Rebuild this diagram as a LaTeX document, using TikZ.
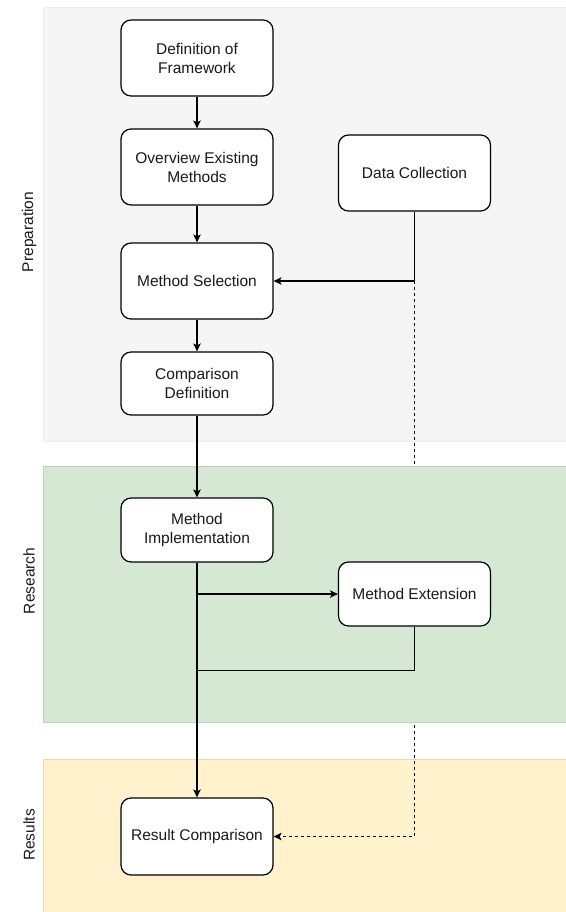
\documentclass[tikz,border=0pt]{standalone}
\usepackage{fontspec}
\setmainfont{Liberation Sans}
\usepackage{xcolor}
\usepackage{tikz}
\usetikzlibrary{arrows.meta, positioning, calc}
\definecolor{prepgray}{HTML}{F5F5F5}
\definecolor{researchgreen}{HTML}{D5E8D4}
\definecolor{resultyellow}{HTML}{FFF2CC}
\definecolor{darktext}{HTML}{1A1A1A}

\pgfdeclarelayer{lanes}
\pgfsetlayers{lanes,main}

\tikzset{
  stepbox/.style={draw=black, fill=white, line width=1.2pt, rounded corners=10pt,
    minimum width=152pt, minimum height=76pt, align=center, text=darktext,
    font=\fontsize{15.5}{19}\selectfont},
  flow/.style={line width=1.2pt, -{Stealth[length=8pt, width=7.5pt, inset=2pt]}},
  link/.style={line width=1.2pt},
  lanelabel/.style={rotate=90, text=darktext, font=\fontsize{15.5}{19}\selectfont},
}

\begin{document}
\begin{tikzpicture}[x=1pt, y=-1pt]
  \useasboundingbox (0,0) rectangle (565,912);

  % lane labels
  \node[lanelabel] (preplabel) at (29,232) {Preparation};
  \node[lanelabel] (reslabel) at (29,581) {Research};
  \node[lanelabel] (resultlabel) at (29,835) {Results};

  % steps
  \node[stepbox] (def) at (197,58) {Definition of\\Framework};
  \node[stepbox] (over) at (197,167) {Overview Existing\\Methods};
  \node[stepbox] (sel) at (197,281) {Method Selection};
  \node[stepbox, minimum height=63pt] (comp) at (197,383.5) {Comparison\\Definition};
  \node[stepbox] (data) at (414.5,173) {Data Collection};
  \node[stepbox, minimum height=64pt] (impl) at (197,530) {Method\\Implementation};
  \node[stepbox, minimum height=64pt] (ext) at (414.5,594) {Method Extension};
  \node[stepbox, minimum height=77pt] (res) at (197,836.5) {Result Comparison};

  % connectors
  \draw[flow] (def) -- (over);
  \draw[flow] (over) -- (sel);
  \draw[flow] (sel) -- (comp);
  \draw[flow] (comp) -- (impl);
  \draw[flow] (impl) -- (res);
  \draw[flow] (data.south) |- (sel.east);
  \coordinate (datasplit) at (data.south |- sel.east);
  \coordinate (extsplit) at (impl.south |- ext.west);
  \draw[flow] (extsplit) -- (ext.west);
  \coordinate (extjoin) at ($(impl.south)+(0,108)$);
  \draw[link] (ext.south) |- (extjoin);

  % lanes, the dashed line runs behind the research lane
  \begin{pgfonlayer}{lanes}
    \fill[prepgray, draw=black!7] (43,7) rectangle (566,441);
    \fill[resultyellow, draw=resultyellow!90!black] (43,759) rectangle (566,913);
    \draw[flow, dash pattern=on 3pt off 3pt] (datasplit) |- (res.east);
    \fill[researchgreen, draw=researchgreen!90!black] (43,466) rectangle (566,722);
  \end{pgfonlayer}
\end{tikzpicture}
\end{document}
